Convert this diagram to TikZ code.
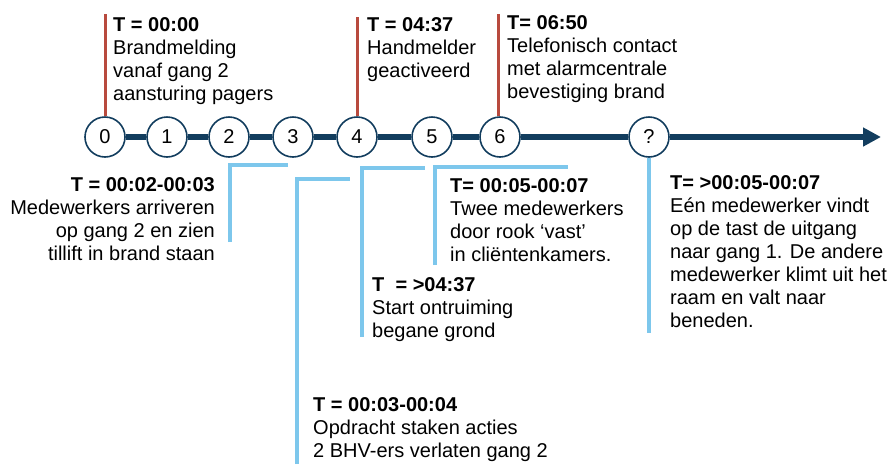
\documentclass[tikz,border=0pt]{standalone}
\usepackage{fontspec}
\setmainfont{Liberation Sans}
\usetikzlibrary{arrows.meta}
\definecolor{navy}{HTML}{123D5E}
\definecolor{skyline}{HTML}{7DC7EC}
\definecolor{redline}{HTML}{B84A3E}
\begin{document}
\begin{tikzpicture}[x=1pt,y=-1pt,
  evt/.style={circle,draw=navy,line width=1.6pt,fill=white,minimum size=40pt,inner sep=0pt,font=\fontsize{20}{23}\selectfont},
  txt/.style={inner sep=0pt,align=left,font=\fontsize{20}{23}\selectfont,anchor=north west},
  axis/.style={navy,line width=6.5pt},
  redmark/.style={redline,line width=3pt},
  bluemark/.style={skyline,line width=4pt}]
\useasboundingbox (0,0) rectangle (891,464);

% event circles
\node[evt] (c0) at (105,137) {0};
\node[evt] (c1) at (167,137) {1};
\node[evt] (c2) at (229,137) {2};
\node[evt] (c3) at (293,137) {3};
\node[evt] (c4) at (357,137) {4};
\node[evt] (c5) at (432,137) {5};
\node[evt] (c6) at (500,137) {6};
\node[evt] (cq) at (649,137) {?};
\coordinate (tip) at (881,137);

% axis
\draw[axis] (c0.east) -- (c1.west);
\draw[axis] (c1.east) -- (c2.west);
\draw[axis] (c2.east) -- (c3.west);
\draw[axis] (c3.east) -- (c4.west);
\draw[axis] (c4.east) -- (c5.west);
\draw[axis] (c5.east) -- (c6.west);
\draw[axis] (c6.east) -- (cq.west);
\draw[axis,-{Triangle[length=18pt,width=18pt]}] (cq.east) -- (tip);

% red markers above
\coordinate (r0) at (105,14);
\coordinate (r4) at (357,17);
\coordinate (r6) at (498,14);
\draw[redmark] (r0) -- (c0.north);
\draw[redmark] (r4) -- (c4.north);
\draw[redmark] (r6) -- (c6.north -| r6);

\node[txt] (t0) at (113,17.5) {\textbf{T = 00:00}\\Brandmelding\\vanaf gang 2\\aansturing pagers};
\node[txt] (t4) at (367,17.5) {\textbf{T = 04:37}\\Handmelder\\geactiveerd};
\node[txt] (t6) at (507,15.5) {\textbf{T= 06:50}\\Telefonisch contact\\met alarmcentrale\\bevestiging brand};

% blue brackets below
\coordinate (a1) at (230,242); \coordinate (a2) at (230,165); \coordinate (a3) at (288,165);
\draw[bluemark] (a1) -- (a2) -- (a3);
\node[txt,anchor=north east,align=right] (ta) at (215,177.5) {\textbf{T = 00:02-00:03}\\Medewerkers arriveren\\op gang 2 en zien\\tillift in brand staan};

\coordinate (b1) at (297,464); \coordinate (b2) at (297,179); \coordinate (b3) at (350,179);
\draw[bluemark] (b1) -- (b2) -- (b3);
\node[txt] (tb) at (313,397.5) {\textbf{T = 00:03-00:04}\\Opdracht staken acties\\2 BHV-ers verlaten gang 2};

\coordinate (d1) at (362,337); \coordinate (d2) at (362,168); \coordinate (d3) at (425,168);
\draw[bluemark] (d1) -- (d2) -- (d3);
\node[txt] (td) at (372,277.5) {\textbf{T\ \ = >04:37}\\Start ontruiming\\begane grond};

\coordinate (e1) at (435,265); \coordinate (e2) at (435,167); \coordinate (e3) at (568,167);
\draw[bluemark] (e1) -- (e2) -- (e3);
\node[txt] (te) at (450,178.5) {\textbf{T= 00:05-00:07}\\Twee medewerkers\\door rook ‘vast’\\in cliëntenkamers.};

\coordinate (q1) at (649,333);
\draw[bluemark] (cq.south) -- (q1);
\node[txt] (tq) at (670,175.5) {\textbf{T= >00:05-00:07}\\Eén medewerker vindt\\op de tast de uitgang\\naar gang 1. De andere\\medewerker klimt uit het\\raam en valt naar\\beneden.};
\end{tikzpicture}
\end{document}
